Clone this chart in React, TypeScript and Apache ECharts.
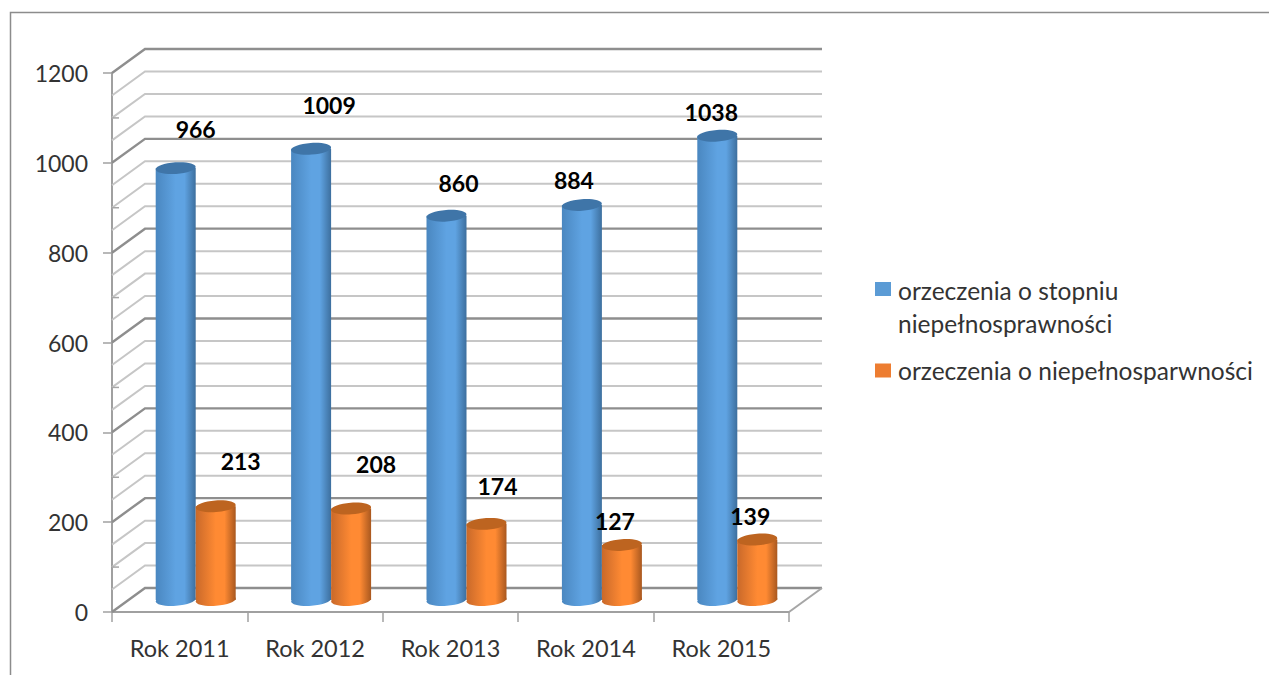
import React, { useEffect, useRef } from "react";
import * as echarts from "echarts";

const categories = ["Rok 2011", "Rok 2012", "Rok 2013", "Rok 2014", "Rok 2015"];
const stopnia = [966, 1009, 860, 884, 1038];
const niepelno = [213, 208, 174, 127, 139];
const gridLevels = [0, 50, 100, 150, 200, 250, 300, 350, 400, 450, 500, 550, 600, 650, 700, 750, 800, 850, 900, 950, 1000, 1050, 1100, 1150, 1200];
const nameA = "orzeczenia o stopniu niepełnosprawności";
const nameB = "orzeczenia o niepełnosparwności";

// hand-placed data labels in the reference: offset from the top of each bar
const nudgeA = [[20, -39], [18, -44], [12, -33], [-8, -25], [-6, -24]];
const nudgeB = [[25, -45], [25, -45], [11, -38], [-7, -24], [-7, -24]];

const FONT = "Lato, Carlito, sans-serif";
const TEXT = "#333333";
const DX = 33, DY = -24;
const BAR_DX = 16, BAR_DY = -12, BAR_W = 40;

function wall(params: any, api: any) {
  const v = api.value(1);
  const cs = params.coordSys;
  const y = api.coord([0, v])[1];
  const major = v % 200 === 0;
  const style = { stroke: major ? "#8e8e8e" : "#c6c6c6", lineWidth: major ? 2.4 : 2, fill: "none" };
  const children: any[] = [
    { type: "polyline", shape: { points: [[cs.x, y], [cs.x + DX, y + DY], [cs.x + cs.width + DX, y + DY]] }, style },
  ];
  if (!major && v % 100 === 0) children.push({ type: "line", shape: { x1: cs.x, y1: y, x2: cs.x + 7, y2: y }, style: { stroke: "#a6a6a6", lineWidth: 1.5 } });
  if (v === 0)
    children.push({ type: "line", shape: { x1: cs.x + cs.width, y1: y, x2: cs.x + cs.width + DX, y2: y + DY }, style: { stroke: "#a6a6a6", lineWidth: 2 } });
  return { type: "group", children };
}

function cylinder(side: number, stops: string[], topColor: string, nudge: number[][]) {
  return (params: any, api: any) => {
    const idx = api.value(0);
    const v = api.value(1);
    const [fx, fy] = api.coord([idx, v]);
    const [, by] = api.coord([idx, 0]);
    const cx = fx + BAR_DX + (side * BAR_W) / 2;
    const top = fy + BAR_DY + 2;
    const base = by + BAR_DY;
    const rx = BAR_W / 2, ry = 5.8, rot = 0.07;
    const grad = () =>
      new echarts.graphic.LinearGradient(0, 0, 1, 0, [
        { offset: 0, color: stops[0] },
        { offset: 0.5, color: stops[1] },
        { offset: 0.72, color: stops[1] },
        { offset: 1, color: stops[2] },
      ]);
    const [nx, ny] = nudge[params.dataIndex];
    return {
      type: "group",
      children: [
        { type: "ellipse", x: cx, y: base, rotation: rot, shape: { cx: 0, cy: 0, rx, ry }, style: { fill: grad() } },
        { type: "rect", shape: { x: cx - rx, y: top, width: BAR_W, height: base - top }, style: { fill: grad() } },
        { type: "ellipse", x: cx, y: top, rotation: rot, shape: { cx: 0, cy: 0, rx, ry }, style: { fill: topColor } },
        {
          type: "text",
          style: {
            x: cx + nx, y: top + ny, text: String(v), align: "center", verticalAlign: "middle",
            fill: "#000", font: `bold 23px ${FONT}`,
          },
        },
      ],
    };
  };
}

export default function App() {
  const ref = useRef<HTMLDivElement>(null);
  useEffect(() => {
    const chart = echarts.init(ref.current!, undefined, { renderer: "svg" });
    chart.setOption({
      animation: false,
      backgroundColor: "#fff",
      grid: { left: 112, top: 73, width: 677, height: 539, containLabel: false },
      xAxis: {
        type: "category",
        data: categories,
        axisLine: { lineStyle: { color: "#a0a0a0", width: 2 } },
        axisTick: { show: true, length: 10, lineStyle: { color: "#a0a0a0", width: 1.5 } },
        axisLabel: { color: TEXT, fontFamily: FONT, fontSize: 23.5, margin: 24 },
      },
      yAxis: {
        type: "value", min: 0, max: 1200, interval: 200,
        axisLine: { show: true, lineStyle: { color: "#a0a0a0", width: 2 } },
        axisTick: { show: true, length: 9, lineStyle: { color: "#a0a0a0", width: 1.5 } },
        axisLabel: { color: TEXT, fontFamily: FONT, fontSize: 23, margin: 24, formatter: (v: number) => String(v) },
        splitLine: { show: false },
      },
      legend: [
        {
          left: 870, top: 268.5, selectedMode: false, itemWidth: 16, itemHeight: 49, itemGap: 0,
          data: [{ name: nameA, icon: "path://M0 0H16V14H0Z M0 49H16" }],
          formatter: () => "orzeczenia o stopniu\nniepełnosprawności",
          textStyle: { color: TEXT, fontFamily: FONT, fontSize: 24.5, lineHeight: 33, padding: [0, 0, 0, 2] },
        },
        {
          left: 870, top: 353, selectedMode: false, itemWidth: 16, itemHeight: 14, itemGap: 0,
          data: [{ name: nameB, icon: "rect" }],
          textStyle: { color: TEXT, fontFamily: FONT, fontSize: 24.5, padding: [0, 0, 0, 2] },
        },
      ],
      graphic: [
        { type: "polyline", silent: true, shape: { points: [[10.5, 675], [10.5, 12.5], [1269, 12.5]] }, style: { stroke: "#8c8c8c", lineWidth: 1.5, fill: "none" } },
      ],
      series: [
        { type: "custom", name: "grid", coordinateSystem: "cartesian2d", silent: true, z: 1, renderItem: wall, data: gridLevels.map((v) => [0, v]), encode: { x: 0, y: 1 } },
        {
          type: "custom", name: nameA, coordinateSystem: "cartesian2d", z: 3, itemStyle: { color: "#5b9bd5" },
          renderItem: cylinder(-1, ["#4a87c0", "#5fa3e2", "#3d6f9e"], "#3f75a8", nudgeA),
          data: stopnia.map((v, i) => [i, v]), encode: { x: 0, y: 1 },
        },
        {
          type: "custom", name: nameB, coordinateSystem: "cartesian2d", z: 4, itemStyle: { color: "#ed7d31" },
          renderItem: cylinder(1, ["#c9692a", "#ff8a33", "#a9581f"], "#bd6420", nudgeB),
          data: niepelno.map((v, i) => [i, v]), encode: { x: 0, y: 1 },
        },
      ],
    });
    return () => chart.dispose();
  }, []);
  return <div ref={ref} style={{ position: "absolute", left: 0, top: 0, width: 1269, height: 675 }} />;
}
